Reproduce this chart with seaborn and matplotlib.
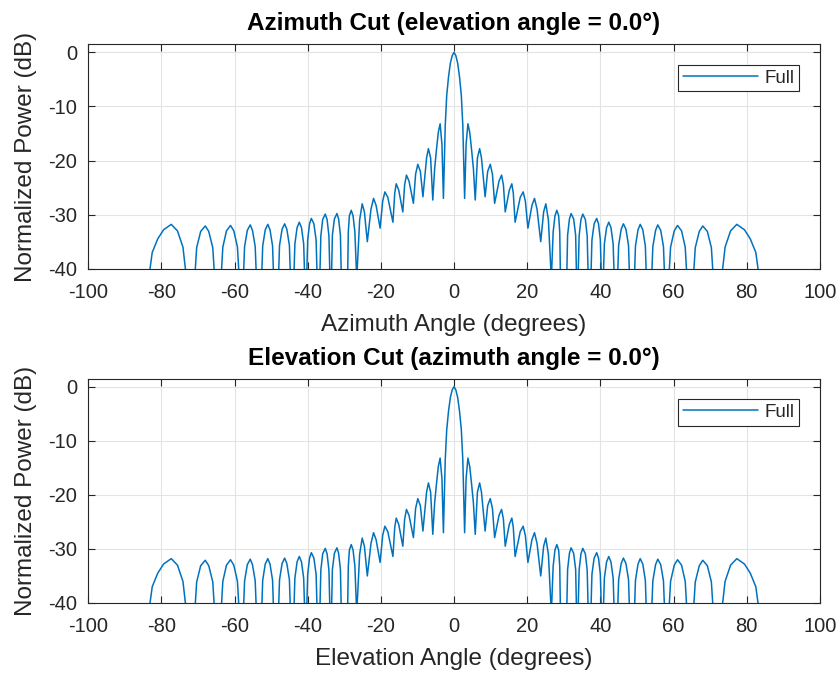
import matplotlib
matplotlib.use("Agg")
import matplotlib.pyplot as plt
import pandas as pd
import seaborn as sns

# cut of the array pattern: angle (deg) and normalized power (dB)
# nulls below -40 dB are clipped by the axes
left_angle = [
    -90.0,
    -83.5, -82.5, -81.0, -79.4, -77.3, -75.6, -74.1, -73.1,
    -70.9, -70.35, -69.25, -68.0, -67.05, -65.95, -65.4,
    -63.7, -63.2, -62.2, -61.1, -60.2, -59.2, -58.7,
    -57.6, -57.25, -56.5, -55.7, -55.1, -54.35, -54.0,
    -52.6, -52.3, -51.6, -50.9, -50.3, -49.6, -49.3,
    -48.0, -47.7, -47.0, -46.3, -45.7, -45.0, -44.7,
    -43.8, -43.5, -42.9, -42.3, -41.7, -41.1, -40.8,
    -40.3, -40.0, -39.5, -39.0, -38.3, -37.7, -37.4,
    -36.7, -36.4, -35.9, -35.2, -34.7, -34.2, -33.9,
    -33.5, -33.25, -32.7, -32.0, -31.55, -31.05, -30.8,
    -29.1, -28.9, -28.6, -28.1, -27.6, -27.1,
    -26.6, -25.8, -25.1, -24.5,
    -23.7, -22.7, -22.0, -21.3,
    -20.2, -19.5, -18.9, -18.1,
    -16.7, -16.2, -15.8, -15.1,
    -14.0, -13.5, -13.0, -12.3,
    -11.1, -10.5, -9.9, -9.2,
    -8.5, -8.0, -7.5, -7.0, -6.4,
    -5.8, -5.3, -4.8, -4.3, -3.8, -3.3,
    -2.9, -2.4, -2.0, -1.5, -1.0, -0.5,
]
left_power = [
    -60.0,
    -42.0, -37.0, -34.5, -32.8, -31.8, -33.0, -36.0, -42.0,
    -42.0, -36.1, -33.1, -32.1, -33.1, -36.1, -42.0,
    -42.0, -36.0, -33.0, -32.0, -33.0, -36.0, -42.0,
    -42.0, -35.9, -32.9, -31.9, -32.9, -35.9, -42.0,
    -42.0, -35.8, -32.8, -31.8, -32.8, -35.8, -42.0,
    -42.0, -35.7, -32.7, -31.7, -32.7, -35.7, -42.0,
    -42.0, -35.4, -32.4, -31.4, -32.4, -35.4, -42.0,
    -42.0, -34.7, -31.7, -30.7, -31.7, -34.7, -42.0,
    -42.0, -33.9, -30.9, -29.9, -30.9, -33.9, -42.0,
    -42.0, -33.8, -30.8, -29.8, -30.8, -33.8, -42.0,
    -42.0, -33.2, -30.2, -29.2, -30.2, -33.2,
    -42.0, -31.0, -28.0, -29.5,
    -35.0, -29.0, -27.0, -28.3,
    -32.5, -27.5, -25.8, -26.8,
    -31.4, -26.0, -24.3, -25.5,
    -29.5, -24.5, -22.7, -23.8,
    -27.9, -22.5, -20.7, -22.0,
    -26.7, -23.0, -19.5, -17.8, -19.5,
    -27.3, -21.5, -18.0, -14.8, -13.2, -17.0,
    -27.0, -13.5, -8.0, -4.5, -2.0, -0.6,
]
right_angle = [
    0.0, 0.5, 1.0, 1.5, 2.0, 2.4, 2.9,
    3.3, 3.8, 4.3, 4.8, 5.3, 5.8,
    6.4, 7.0, 7.5, 8.0, 8.5,
    9.2, 9.9, 10.5, 11.1,
    12.3, 13.0, 13.5, 14.0,
    15.1, 15.8, 16.2, 16.7,
    18.1, 18.9, 19.5, 20.2,
    21.3, 22.0, 22.7, 23.7,
    24.5, 25.1, 25.8, 26.6,
    27.1, 27.6, 28.1, 28.6, 28.9, 29.1,
    30.8, 31.05, 31.55, 32.0, 32.7, 33.25, 33.5,
    33.9, 34.2, 34.7, 35.2, 35.9, 36.4, 36.7,
    37.4, 37.7, 38.3, 39.0, 39.5, 40.0, 40.3,
    40.8, 41.1, 41.7, 42.3, 42.9, 43.5, 43.8,
    44.7, 45.0, 45.7, 46.3, 47.0, 47.7, 48.0,
    49.3, 49.6, 50.3, 50.9, 51.6, 52.3, 52.6,
    54.0, 54.35, 55.1, 55.7, 56.5, 57.25, 57.6,
    58.7, 59.2, 60.2, 61.1, 62.2, 63.2, 63.7,
    65.4, 65.95, 67.05, 68.0, 69.25, 70.35, 70.9,
    73.1, 74.1, 75.6, 77.3, 79.4, 81.0, 82.5, 83.5,
    90.0,
]
right_power = [
    0.0, -0.6, -2.0, -4.5, -8.0, -13.5, -27.0,
    -17.0, -13.2, -14.8, -18.0, -21.5, -27.3,
    -19.5, -17.8, -19.5, -23.0, -26.7,
    -22.0, -20.7, -22.5, -27.9,
    -23.8, -22.7, -24.5, -29.5,
    -25.5, -24.3, -26.0, -31.4,
    -26.8, -25.8, -27.5, -32.5,
    -28.3, -27.0, -29.0, -35.0,
    -29.5, -28.0, -31.0, -42.0,
    -33.2, -30.2, -29.2, -30.2, -33.2, -42.0,
    -42.0, -33.8, -30.8, -29.8, -30.8, -33.8, -42.0,
    -42.0, -33.9, -30.9, -29.9, -30.9, -33.9, -42.0,
    -42.0, -34.7, -31.7, -30.7, -31.7, -34.7, -42.0,
    -42.0, -35.4, -32.4, -31.4, -32.4, -35.4, -42.0,
    -42.0, -35.7, -32.7, -31.7, -32.7, -35.7, -42.0,
    -42.0, -35.8, -32.8, -31.8, -32.8, -35.8, -42.0,
    -42.0, -35.9, -32.9, -31.9, -32.9, -35.9, -42.0,
    -42.0, -36.0, -33.0, -32.0, -33.0, -36.0, -42.0,
    -42.0, -36.1, -33.1, -32.1, -33.1, -36.1, -42.0,
    -42.0, -36.0, -33.0, -31.8, -32.8, -34.5, -37.0, -42.0,
    -60.0,
]

x_ticks = [-100, -80, -60, -40, -20, 0, 20, 40, 60, 80, 100]
y_ticks = [-40, -30, -20, -10, 0]

titles = ["Azimuth Cut (elevation angle = 0.0°)", "Elevation Cut (azimuth angle = 0.0°)"]
xlabels = ["Azimuth Angle (degrees)", "Elevation Angle (degrees)"]

sns.set_style("ticks")
plt.rcParams["font.family"] = ["Liberation Sans", "DejaVu Sans"]
plt.rcParams["axes.unicode_minus"] = False

cut = pd.DataFrame({"angle": left_angle + right_angle,
                    "power": left_power + right_power})

fig = plt.figure(figsize=(8.4, 6.76), dpi=100)
axes = [fig.add_axes([0.105, 0.6025, 0.871, 0.332]),
        fig.add_axes([0.105, 0.108, 0.871, 0.332])]

dark = "#262626"
for ax, title, xlabel in zip(axes, titles, xlabels):
    # both cuts look the same in the picture
    sns.lineplot(data=cut, x="angle", y="power", ax=ax, color="#0072BD",
                 linewidth=1.1, sort=False, estimator=None, label="Full")
    ax.set_xlim(-100, 100)
    ax.set_ylim(-40, 1.5)
    ax.set_xticks(x_ticks)
    ax.set_yticks(y_ticks)
    ax.grid(True, color="#e3e3e3", linewidth=0.8)
    ax.set_axisbelow(True)
    ax.tick_params(direction="in", top=True, right=True, length=5, width=0.8,
                   color=dark, labelsize=14.5, labelcolor=dark)
    ax.tick_params(axis="x", pad=10)
    ax.tick_params(axis="y", pad=8)
    for s in ax.spines.values():
        s.set_visible(True)
        s.set_color(dark)
        s.set_linewidth(0.8)
    ax.set_title(title, fontsize=17.5, fontweight="bold", color="black", pad=10)
    ax.set_xlabel(xlabel, fontsize=17.5, color=dark, labelpad=9)
    ax.set_ylabel("Normalized Power (dB)", fontsize=17.5, color=dark, labelpad=8)
    leg = ax.legend(loc="upper right", fontsize=13.5, frameon=True, fancybox=False,
                    framealpha=1, edgecolor=dark, handlelength=4.0,
                    handletextpad=0.35, borderaxespad=1.1, borderpad=0.25)
    leg.get_frame().set_linewidth(0.8)

fig.savefig("out.png", dpi=100)
